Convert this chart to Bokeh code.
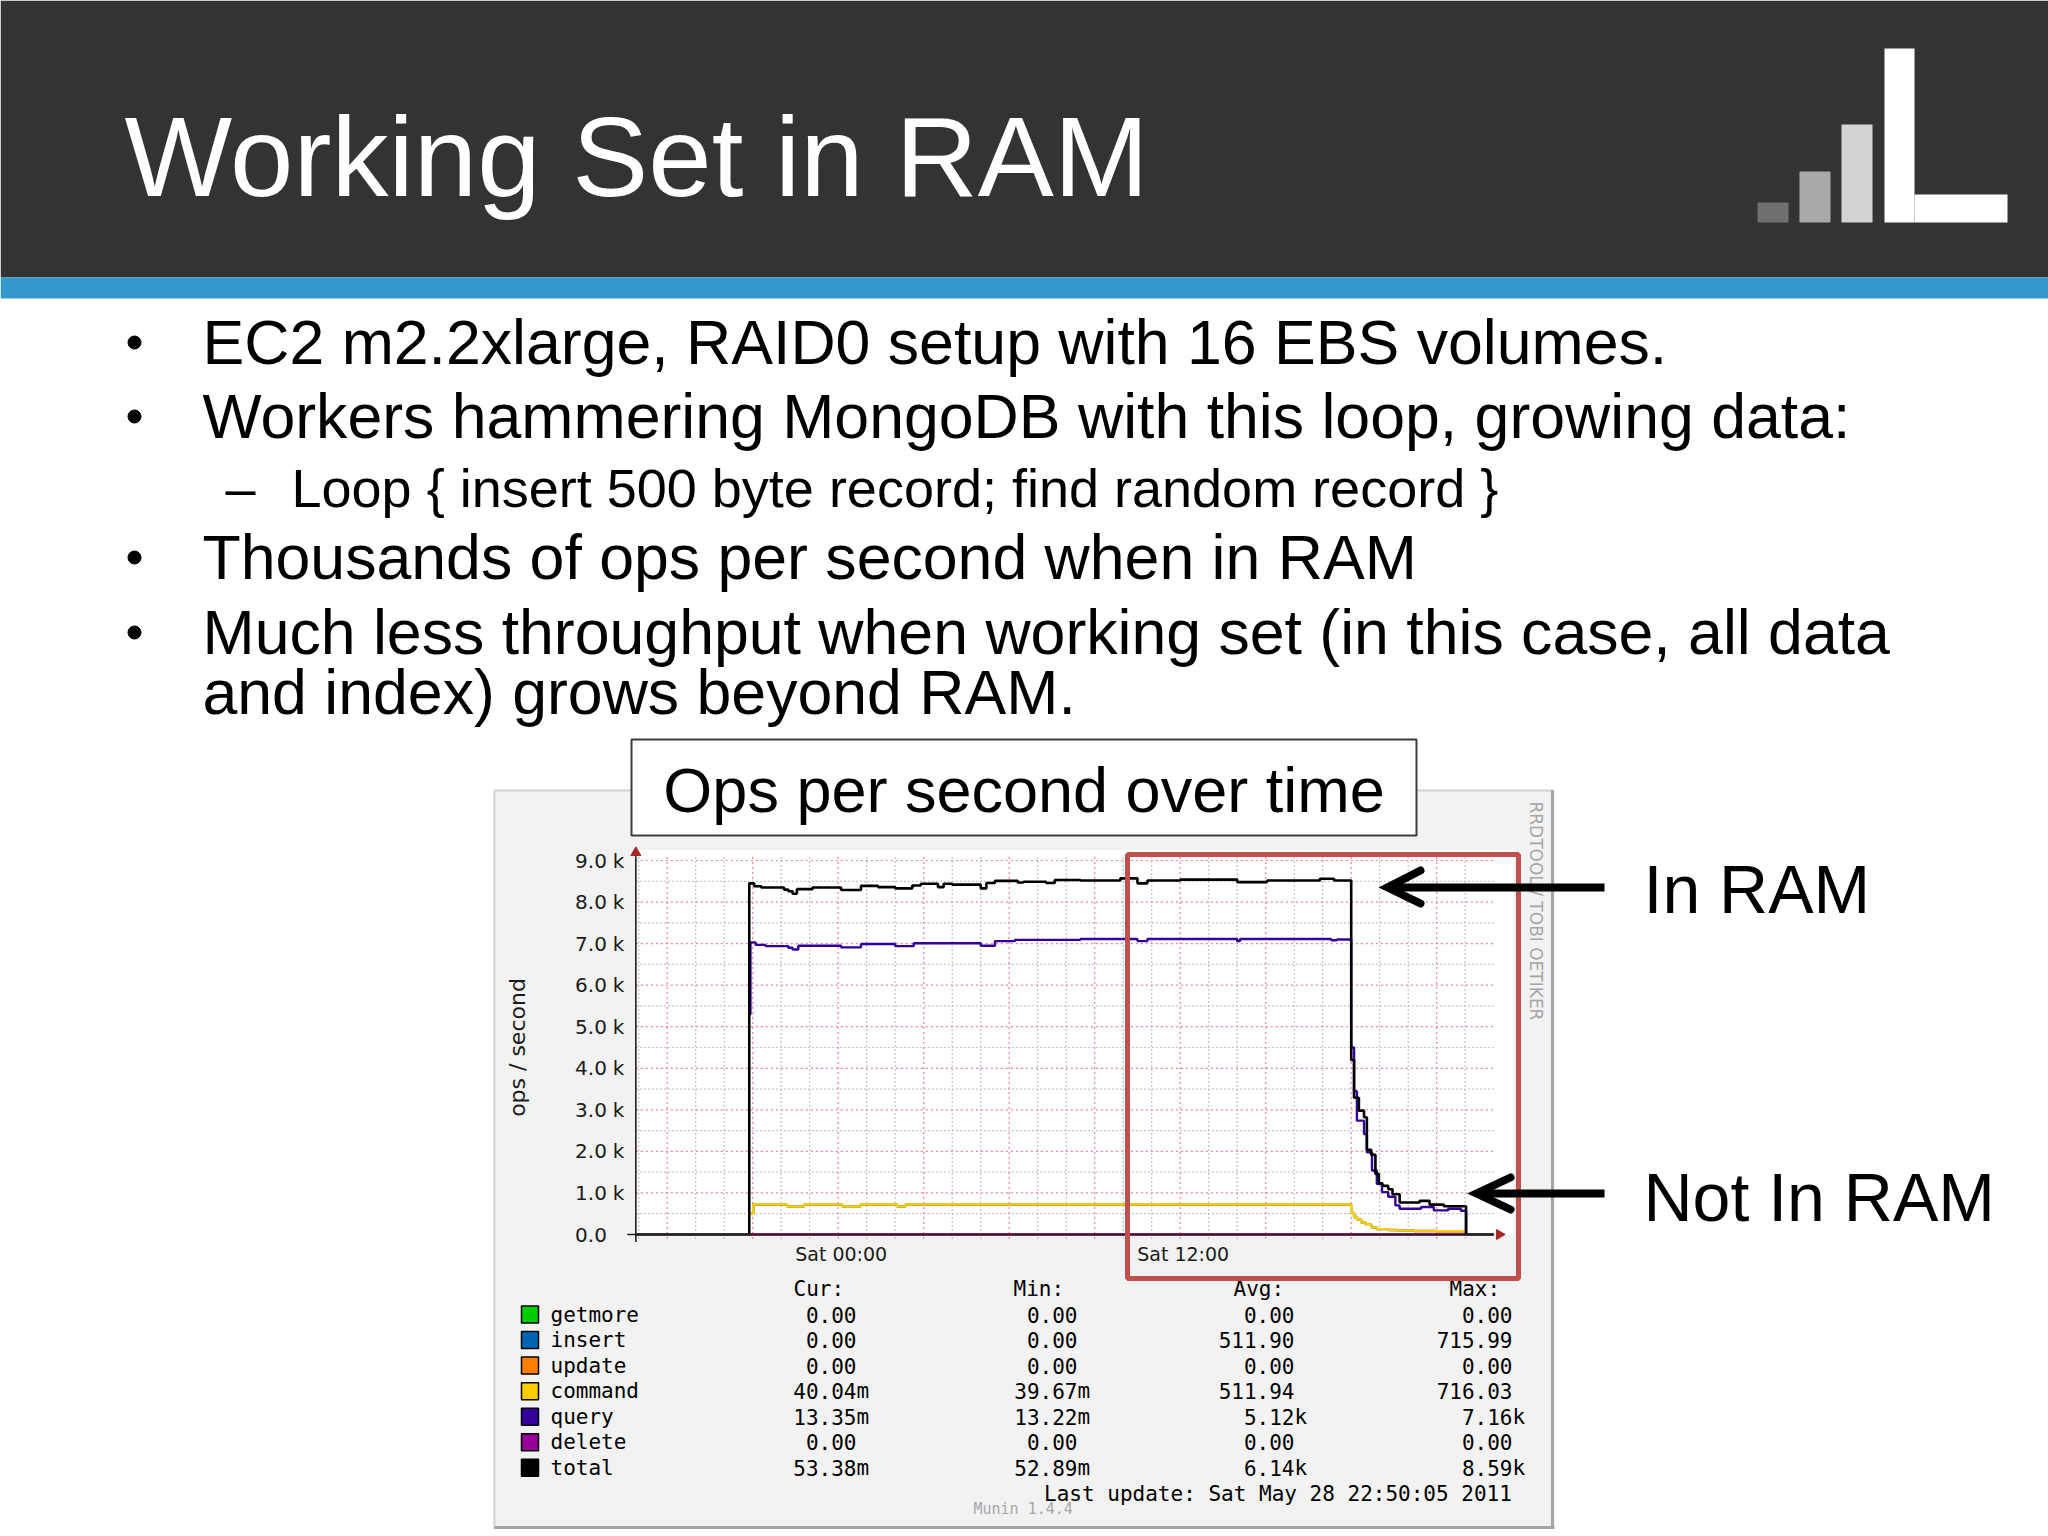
import math
from bokeh.plotting import figure
from bokeh.models import Range1d
from bokeh.core.properties import value
from bokeh.embed import file_html
from bokeh.resources import INLINE

# ------------------------------------------------------------------ data
SLIDE_TITLE = "Working Set in RAM"
BULLETS = [
    "EC2 m2.2xlarge, RAID0 setup with 16 EBS volumes.",
    "Workers hammering MongoDB with this loop, growing data:",
    "Thousands of ops per second when in RAM",
    "Much less throughput when working set (in this case, all data",
]
BULLET_CONT = "and index) grows beyond RAM."
SUB_BULLET = "Loop { insert 500 byte record; find random record }"
CHART_CAPTION = "Ops per second over time"
CALLOUTS = ["In RAM", "Not In RAM"]

# (hour relative to Sat 00:00, ops/second) change points of the step series
TOTAL = [(-7.1, 0), (-3.12, 8450), (-2.95, 8380), (-2.7, 8350), (-1.9, 8300),
         (-1.75, 8260), (-1.6, 8200), (-1.45, 8310), (-0.9, 8350), (0.1, 8290),
         (0.8, 8390), (1.4, 8360), (2.0, 8330), (2.6, 8400), (2.9, 8440),
         (3.5, 8360), (3.7, 8440), (4.0, 8420), (5.0, 8330), (5.2, 8460),
         (5.5, 8510), (6.3, 8470), (6.5, 8490), (7.3, 8460), (7.6, 8530),
         (8.5, 8520), (9.9, 8570), (10.5, 8450), (10.85, 8520), (12.0, 8540),
         (14.0, 8480), (15.05, 8520), (16.9, 8560), (17.4, 8520), (18.0, 4200),
         (18.1, 3290), (18.27, 2980), (18.45, 2820), (18.55, 2040), (18.7, 1920),
         (18.85, 1460), (18.97, 1230), (19.1, 1170), (19.3, 1090), (19.45, 970),
         (19.7, 770), (20.4, 810), (20.75, 720), (21.25, 680), (22.03, 0), (23.0, 0)]
QUERY = [(-3.12, 5300), (-3.08, 7030), (-2.9, 6970), (-2.55, 6940), (-1.75, 6900),
         (-1.6, 6860), (-1.4, 6950), (0.1, 6910), (0.8, 6990), (2.0, 6940),
         (2.65, 7010), (5.0, 6950), (5.5, 7060), (6.2, 7090), (8.5, 7110), (10.5, 7060),
         (10.85, 7110), (14.0, 7060), (14.1, 7110), (17.3, 7080), (17.5, 7100),
         (18.0, 4500), (18.1, 3450), (18.2, 2740), (18.45, 2420), (18.55, 1980),
         (18.73, 1540), (18.9, 1220), (19.08, 1020), (19.3, 910), (19.55, 700),
         (19.7, 620), (20.45, 660), (20.9, 580), (21.4, 620), (21.85, 570), (22.03, 0)]
COMMAND = [(-3.12, 500), (-2.98, 722), (-1.79, 674), (-1.2, 722), (0.14, 674),
           (0.78, 722), (2.07, 674), (2.36, 722), (18.0, 520), (18.1, 420),
           (18.2, 360), (18.35, 290), (18.5, 250), (18.7, 170), (18.9, 130),
           (19.3, 110), (19.6, 95), (20.2, 85), (21.0, 80), (22.03, 0)]
INSERT = [(-3.12, 500), (-2.98, 716), (-1.79, 672), (-1.2, 716), (0.14, 672),
          (0.78, 716), (2.07, 672), (2.36, 716), (18.0, 520), (18.1, 420),
          (18.2, 360), (18.35, 290), (18.5, 250), (18.7, 170), (18.9, 130),
          (19.3, 110), (19.6, 95), (20.2, 85), (21.0, 80), (22.03, 0)]
ZERO = [(-3.12, 0), (22.03, 0)]  # getmore, update, delete

Y_TICKS = [0, 1000, 2000, 3000, 4000, 5000, 6000, 7000, 8000, 9000]
Y_TICK_LABELS = ["0.0", "1.0 k", "2.0 k", "3.0 k", "4.0 k", "5.0 k", "6.0 k",
                 "7.0 k", "8.0 k", "9.0 k"]
X_LABEL_HOURS = [0, 12]
X_LABELS = ["Sat 00:00", "Sat 12:00"]
Y_LABEL = "ops / second"

LEGEND_NAMES = ["getmore", "insert", "update", "command", "query", "delete", "total"]
LEGEND_COLORS = ["#00cc00", "#0066b3", "#ff8000", "#ffcc00", "#330099", "#990099", "#000000"]
COL_HEADERS = ["Cur:", "Min:", "Avg:", "Max:"]
CUR = ["0.00", "0.00", "0.00", "40.04m", "13.35m", "0.00", "53.38m"]
MIN = ["0.00", "0.00", "0.00", "39.67m", "13.22m", "0.00", "52.89m"]
AVG = ["0.00", "511.90", "0.00", "511.94", "5.12k", "0.00", "6.14k"]
MAX = ["0.00", "715.99", "0.00", "716.03", "7.16k", "0.00", "8.59k"]
LAST_UPDATE = "Last update:  Sat May 28 22:50:05 2011"
MUNIN_VERSION = "Munin 1.4.4"
RRD_CREDIT = "RRDTOOL / TOBI OETIKER"

# ------------------------------------------------------------------ layout helpers
W, H = 2048, 1536


def X(r):  # reference-pixel x -> canvas coordinate
    return r


def Y(r):  # reference-pixel y (down) -> canvas coordinate (up)
    return H - r


p = figure(width=W, height=H, x_range=Range1d(0, W), y_range=Range1d(0, H),
           output_backend="svg", toolbar_location=None, min_border=0,
           x_axis_location=None, y_axis_location=None, outline_line_color=None,
           background_fill_color="white", border_fill_color="white")
p.grid.visible = False

SANS = "Liberation Sans"
DV = "DejaVu Sans"
MONO = "DejaVu Sans Mono"


def txt(x, y, s, size, color="black", font=SANS, align="left",
        baseline="alphabetic", angle=0.0):
    if baseline == "alphabetic":
        # place by the visual middle of the capitals
        y = y - 0.35 * size
        baseline = "middle"
    p.text(x=[X(x)], y=[Y(y)], text=[s], text_font=value(font),
           text_font_size=f"{size}px", text_color=color, text_align=align,
           text_baseline=baseline, angle=angle)


def box(l, r, t, b, fill, line=None, lw=1.0):
    p.quad(left=[X(l)], right=[X(r)], top=[Y(t)], bottom=[Y(b)],
           fill_color=fill, line_color=line, line_width=lw)


# ------------------------------------------------------------------ header
box(0, 2048, 0, 277, "#333335")
box(0, 2048, 277, 298, "#3498cc")
txt(124, 196, SLIDE_TITLE, 114, color="white")
box(1757, 1788, 202, 222, "#707070")
box(1799, 1830, 171, 222, "#a9a9ab")
box(1841, 1872, 124, 222, "#d3d3d5")
box(1884, 1914, 48, 222, "white")
box(1914, 2007, 194, 222, "white")

# ------------------------------------------------------------------ bullets
bullet_baselines = [363, 437, 578, 653]
for s, bl in zip(BULLETS, bullet_baselines):
    p.scatter(x=[X(134)], y=[Y(bl - 21)], size=13, color="black")
    txt(202, bl, s, 62.6)
txt(202, 713, BULLET_CONT, 62.6)
txt(225, 506, "\u2013", 54)
txt(291, 506, SUB_BULLET, 54)

# ------------------------------------------------------------------ chart box
box(494, 1554, 790, 1528, "#f2f2f2")
p.segment(x0=[X(494), X(494)], y0=[Y(790), Y(790)], x1=[X(1554), X(494)],
          y1=[Y(790), Y(1528)], line_color="#d2d2d2", line_width=2)
p.segment(x0=[X(494), X(1552)], y0=[Y(1527), Y(790)], x1=[X(1554), X(1552)],
          y1=[Y(1527), Y(1528)], line_color="#a4a4a4", line_width=3)

H0, H1 = -7.1, 23.0
sub = p.subplot(x_source=Range1d(H0, H1), y_source=Range1d(0, 9000),
                x_target=Range1d(X(635.35), X(1493.2)),
                y_target=Range1d(Y(1234), Y(860)))

# plot canvas
sub.quad(left=[H0], right=[H1 + 0.7], bottom=[0], top=[9250],
         fill_color="white", line_color=None)

# grid
hours_minor = [h for h in range(-7, 23) if h % 3 != 0]
hours_major = [h for h in range(-6, 23) if h % 3 == 0]
vals_minor = [500 + 1000 * i for i in range(9)]
vals_major = Y_TICKS[1:]
GRID_MINOR = "#c4c4c4"
GRID_MAJOR = "#ec6c7c"
sub.segment(x0=hours_minor, y0=[-110] * len(hours_minor), x1=hours_minor,
            y1=[9120] * len(hours_minor), line_color=GRID_MINOR, line_dash="2 2",
            line_width=1.2)
sub.segment(x0=[H0] * len(vals_minor), y0=vals_minor, x1=[H1] * len(vals_minor),
            y1=vals_minor, line_color=GRID_MINOR, line_dash="2 2", line_width=1.2)
sub.segment(x0=hours_major, y0=[-110] * len(hours_major), x1=hours_major,
            y1=[9120] * len(hours_major), line_color=GRID_MAJOR, line_dash="2 3",
            line_width=1.2, line_alpha=0.85)
sub.segment(x0=[H0] * len(vals_major), y0=vals_major, x1=[H1] * len(vals_major),
            y1=vals_major, line_color=GRID_MAJOR, line_dash="2 3", line_width=1.2,
            line_alpha=0.85)


def series(points, color, width=2.4):
    xs = [a for a, _ in points]
    ys = [b for _, b in points]
    sub.step(x=xs, y=ys, mode="after", line_color=color, line_width=width)


series(ZERO, LEGEND_COLORS[0])
series(INSERT, LEGEND_COLORS[1])
series(ZERO, LEGEND_COLORS[2])
series(COMMAND, LEGEND_COLORS[3])
series(QUERY, LEGEND_COLORS[4])
series(ZERO, LEGEND_COLORS[5])
series(TOTAL, LEGEND_COLORS[6], 2.6)

# axes
sub.segment(x0=[H0 - 0.3], y0=[0], x1=[H1], y1=[0], line_color="#202020", line_width=1.6)
sub.segment(x0=[H0], y0=[-180], x1=[H0], y1=[9100], line_color="#202020", line_width=1.6)
sub.scatter(x=[H0], y=[9190], marker="triangle", size=10, color="#a8282a")
sub.scatter(x=[H1 + 0.2], y=[0], marker="triangle", size=10, color="#a8282a",
            angle=-math.pi / 2)

# tick labels
nums = [s.split(" ")[0] for s in Y_TICK_LABELS]
sufs = [s.split(" ")[1] if " " in s else "" for s in Y_TICK_LABELS]
sub.text(x=[H0] * len(Y_TICKS), y=Y_TICKS, text=nums, x_offset=-29,
         text_align="right", text_baseline="middle", text_font=value(DV),
         text_font_size="20px", text_color="#1a1a1a")
sub.text(x=[H0] * len(Y_TICKS), y=Y_TICKS, text=sufs, x_offset=-23,
         text_align="left", text_baseline="middle", text_font=value(DV),
         text_font_size="20px", text_color="#1a1a1a")
sub.text(x=X_LABEL_HOURS, y=[-480] * len(X_LABEL_HOURS), text=X_LABELS, x_offset=3,
         text_align="center", text_baseline="middle", text_font=value(DV),
         text_font_size="19px", text_color="#1a1a1a")

txt(517, 1047, Y_LABEL, 22, color="#1a1a1a", font=DV, align="center",
    baseline="middle", angle=math.pi / 2)
txt(1535, 801, RRD_CREDIT, 17, color="#a6a6a6", font=DV, align="left",
    baseline="middle", angle=-math.pi / 2)

# legend table
row_y = [1314 + 25.55 * i for i in range(len(LEGEND_NAMES))]
for i, (nm, col) in enumerate(zip(LEGEND_NAMES, LEGEND_COLORS)):
    p.quad(left=[X(521)], right=[X(538)], top=[Y(row_y[i] - 8.5)],
           bottom=[Y(row_y[i] + 8.5)], fill_color=col, line_color="black",
           line_width=1.5)
    txt(550, row_y[i], nm, 21, font=MONO, baseline="middle")

header_x = [793, 1013, 1233, 1449]
for hx, hd in zip(header_x, COL_HEADERS):
    txt(hx, 1288, hd, 21, font=MONO, baseline="middle")

col_right = [856, 1077, 1294, 1512]
for cr, colvals in zip(col_right, [CUR, MIN, AVG, MAX]):
    for i, v in enumerate(colvals):
        if v[-1].isalpha():
            num, suf = v[:-1], v[-1]
        else:
            num, suf = v, ""
        txt(cr, row_y[i], num, 21, font=MONO, align="right", baseline="middle")
        if suf:
            txt(cr, row_y[i], suf, 21, font=MONO, align="left", baseline="middle")

txt(1524, 1493, LAST_UPDATE, 21, font=MONO, align="right", baseline="middle")
txt(973, 1508, MUNIN_VERSION, 15, color="#a8a8a8", font=MONO, baseline="middle")

# ------------------------------------------------------------------ overlays
box(631, 1416, 739, 835, "white", line="#3c3c3c", lw=2)
txt(1023.5, 812, CHART_CAPTION, 63, align="center")

p.quad(left=[X(1127)], right=[X(1518)], top=[Y(854)], bottom=[Y(1278)],
       fill_color=None, line_color="#c0504d", line_width=5)

# arrows
p.segment(x0=[X(1392), X(1480)], y0=[Y(887), Y(1193)], x1=[X(1604), X(1604)],
          y1=[Y(887), Y(1193)], line_color="black", line_width=8)
p.multi_line(xs=[[X(1420), X(1387), X(1420)], [X(1510), X(1476), X(1510)]],
             ys=[[Y(870), Y(887), Y(903)], [Y(1177), Y(1193), Y(1209)]],
             line_color="black", line_width=8, line_cap="round", line_join="miter")

txt(1643, 912, CALLOUTS[0], 68)
txt(1643, 1220, CALLOUTS[1], 68)

open("out.html", "w").write(file_html(p, INLINE))
